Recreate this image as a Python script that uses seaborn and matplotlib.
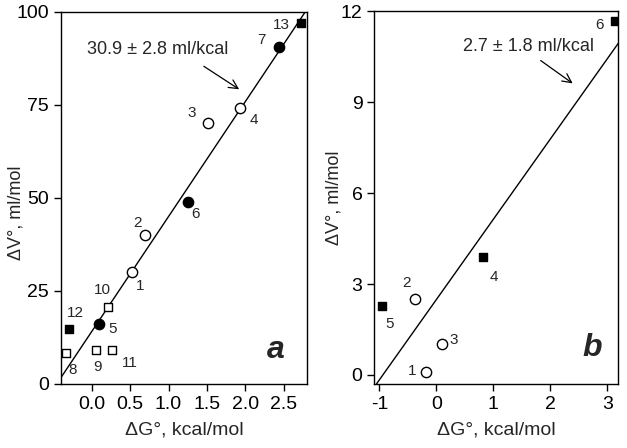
import pandas as pd
import matplotlib
matplotlib.use('Agg')
import matplotlib.pyplot as plt
import seaborn as sns

# panel a data
a_ids = ['1', '2', '3', '4', '5', '6', '7', '8', '9', '10', '11', '12', '13']
a_dG = [0.52, 0.70, 1.51, 1.93, 0.10, 1.25, 2.44, -0.34, 0.05, 0.21, 0.26, -0.30, 2.72]
a_dV = [30.1, 40.1, 70.2, 74.1, 16.2, 49.0, 90.7, 8.3, 9.2, 20.6, 9.2, 14.7, 97.0]
a_kind = ['oc', 'oc', 'oc', 'oc', 'fc', 'fc', 'fc', 'os', 'os', 'os', 'os', 'fs', 'fs']
a_slope, a_icpt = 30.9, 14.1

# panel b data
b_ids = ['1', '2', '3', '4', '5', '6']
b_dG = [-0.19, -0.37, 0.09, 0.81, -0.95, 3.13]
b_dV = [0.1, 2.51, 1.01, 3.9, 2.28, 11.69]
b_kind = ['oc', 'oc', 'oc', 'fs', 'fs', 'fs']
b_slope, b_icpt = 2.65, 2.49

# label offsets in pixels (layout)
a_off = {'1': (8, -14), '2': (-8, 12), '3': (-16, 10), '4': (14, -12), '5': (13, -5),
         '6': (8, -12), '7': (-18, 7), '8': (7, -17), '9': (2, -17), '10': (-5, 17),
         '11': (18, -13), '12': (7, 16), '13': (-19, -2)}
b_off = {'1': (-13, 1), '2': (-9, 16), '3': (12, 4), '4': (11, -20), '5': (7, -18), '6': (-15, -4)}

sns.set_style('ticks')
plt.rcParams['font.family'] = ['Liberation Sans', 'DejaVu Sans']
plt.rcParams['axes.unicode_minus'] = False

styles = {
    'oc': dict(marker='o', facecolor='white', edgecolor='black', s=55),
    'fc': dict(marker='o', facecolor='black', edgecolor='black', s=55),
    'os': dict(marker='s', facecolor='white', edgecolor='black', s=38),
    'fs': dict(marker='s', facecolor='black', edgecolor='black', s=38),
}

fig = plt.figure(figsize=(6.27, 4.48), dpi=100)
ax1 = fig.add_axes([0.0973, 0.1429, 0.3919, 0.8304])
ax2 = fig.add_axes([0.597, 0.1429, 0.389, 0.8317])


def draw(ax, ids, xs, ys, kinds, slope, icpt, offs):
    df = pd.DataFrame({'id': ids, 'dG': xs, 'dV': ys, 'kind': kinds})
    ax.axline((0, icpt), slope=slope, color='black', lw=1.0, zorder=1)
    for k, sub in df.groupby('kind'):
        sns.scatterplot(data=sub, x='dG', y='dV', ax=ax, linewidth=1.0, zorder=3, legend=False, **styles[k])
    for _, r in df.iterrows():
        ax.annotate(r['id'], (r['dG'], r['dV']), xytext=offs[r['id']], textcoords='offset pixels',
                    ha='center', va='center', fontsize=11)
    for sp in ax.spines.values():
        sp.set_visible(True)
        sp.set_linewidth(1.0)
        sp.set_color('black')
    ax.tick_params(direction='out', length=5, width=1, labelsize=14, colors='black', top=False, right=False)
    ax.set_xlabel('ΔG°, kcal/mol', fontsize=14, labelpad=6)
    ax.set_ylabel('ΔV°, ml/mol', fontsize=13)


draw(ax1, a_ids, a_dG, a_dV, a_kind, a_slope, a_icpt, a_off)
ax1.set_xlim(-0.4, 2.8)
ax1.set_ylim(0, 100)
ax1.set_xticks([0.0, 0.5, 1.0, 1.5, 2.0, 2.5])
ax1.set_yticks([0, 25, 50, 75, 100])
ax1.yaxis.set_label_coords(-0.15, 0.46)
ax1.annotate('30.9 ± 2.8 ml/kcal', xy=(1.95, 78.8), xytext=(0.86, 89.8), fontsize=13,
             ha='center', va='center')
ax1.annotate('', xy=(1.95, 78.8), xytext=(1.43, 85.8),
             arrowprops=dict(arrowstyle='->', lw=0.9, color='black', mutation_scale=16))
ax1.text(2.40, 9.1, 'a', fontsize=23, fontweight='bold', style='italic', ha='center', va='center')

draw(ax2, b_ids, b_dG, b_dV, b_kind, b_slope, b_icpt, b_off)
ax2.set_xlim(-1.09, 3.19)
ax2.set_ylim(-0.3, 12)
ax2.set_xticks([-1, 0, 1, 2, 3])
ax2.set_yticks([0, 3, 6, 9, 12])
ax2.yaxis.set_label_coords(-0.13, 0.5)
ax2.annotate('2.7 ± 1.8 ml/kcal', xy=(2.43, 9.57), xytext=(1.62, 10.83), fontsize=13,
             ha='center', va='center')
ax2.annotate('', xy=(2.43, 9.57), xytext=(1.79, 10.43),
             arrowprops=dict(arrowstyle='->', lw=0.9, color='black', mutation_scale=16))
ax2.text(2.73, 0.88, 'b', fontsize=23, fontweight='bold', style='italic', ha='center', va='center')

fig.savefig('out.png', dpi=100)
